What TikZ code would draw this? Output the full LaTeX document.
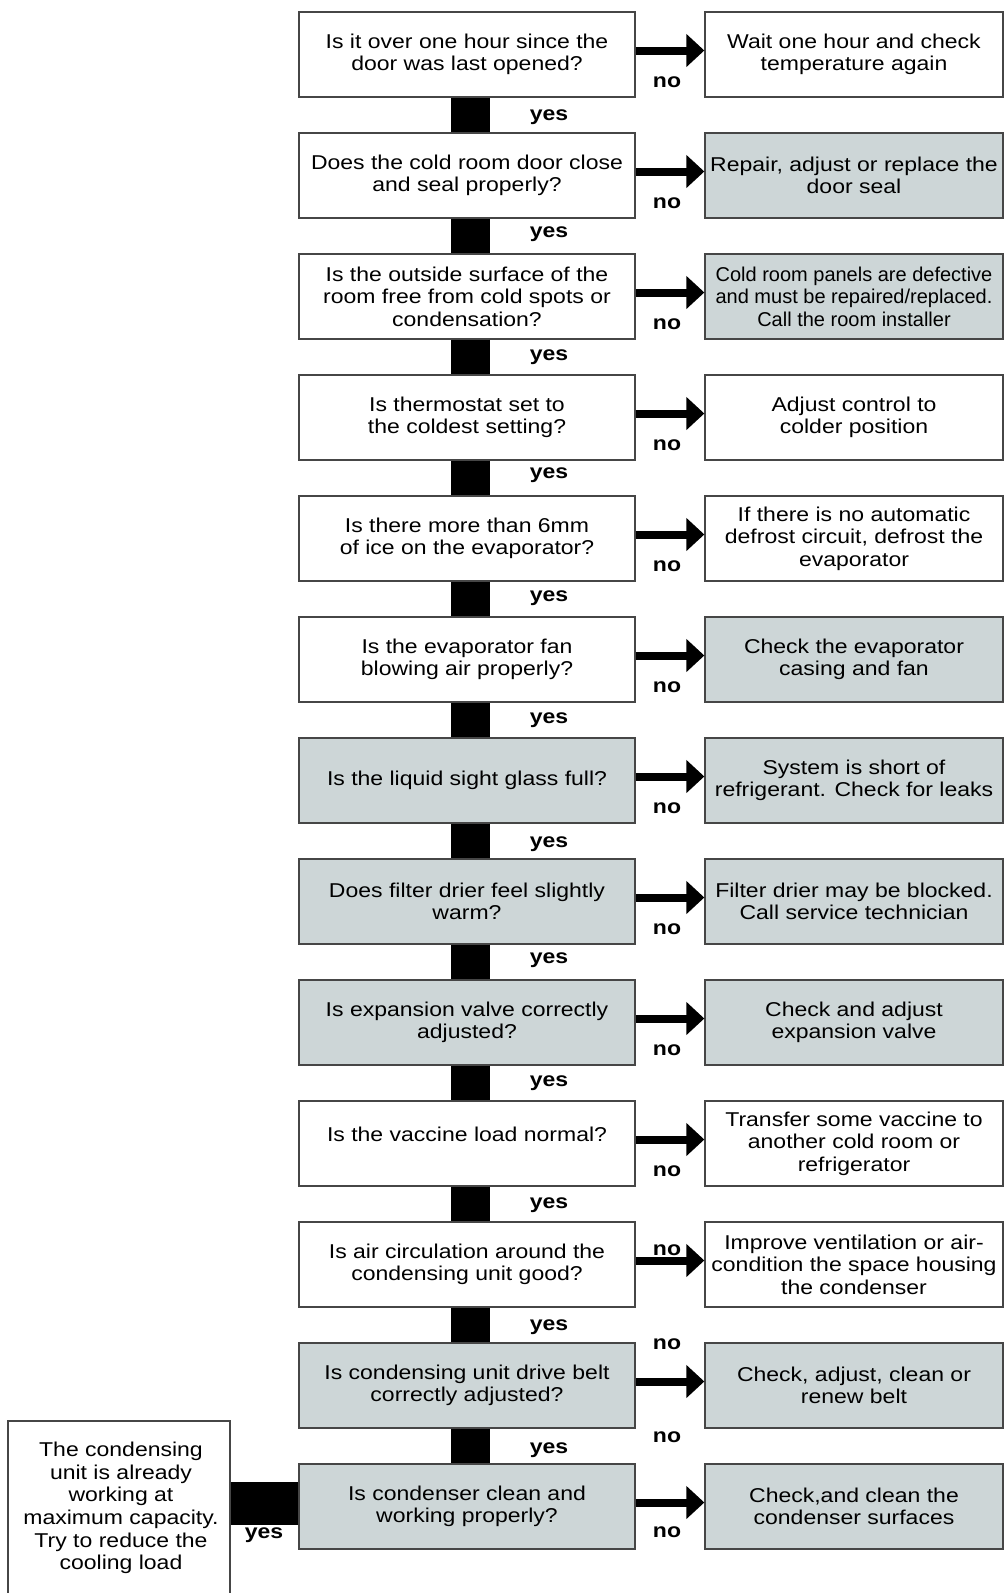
\documentclass[tikz,border=0pt]{standalone}
\usepackage{fontspec}
\setmainfont{Liberation Sans}[FakeStretch=1.15]
\newfontfamily\narrowfont{Liberation Sans}
\usetikzlibrary{arrows.meta}
\definecolor{boxgray}{RGB}{205,214,215}
\definecolor{edgecol}{RGB}{70,70,70}
\begin{document}
\begin{tikzpicture}[x=1pt,y=-1pt,
  every node/.style={font=\fontsize{20}{22.6}\selectfont},
  qbox/.style={draw=edgecol,line width=1.3pt,minimum width=336pt,minimum height=85pt,inner sep=0pt,align=center,fill=white},
  abox/.style={qbox,minimum width=298pt},
  shaded/.style={fill=boxgray},
  lab/.style={font=\fontsize{20}{22.6}\selectfont\bfseries,inner sep=0pt},
  noarr/.style={line width=8pt,-{Triangle[length=18pt,width=32pt]}},
  yesbar/.style={line width=39pt}]
\useasboundingbox (0,0) rectangle (1004,1593);
% question boxes
\node[qbox] (q1) at (467,54.5) {Is it over one hour since the\\door was last opened?};
\node[qbox] (q2) at (467,175.5) {Does the cold room door close\\and seal properly?};
\node[qbox] (q3) at (467,296.5) {Is the outside surface of the\\room free from cold spots or\\condensation?};
\node[qbox] (q4) at (467,417.5) {Is thermostat set to\\the coldest setting?};
\node[qbox] (q5) at (467,538.5) {Is there more than 6mm\\of ice on the evaporator?};
\node[qbox] (q6) at (467,659.5) {Is the evaporator fan\\blowing air properly?};
\node[qbox,shaded] (q7) at (467,780.5) {Is the liquid sight glass full?};
\node[qbox,shaded] (q8) at (467,901.5) {Does filter drier feel slightly\\warm?};
\node[qbox,shaded] (q9) at (467,1022.5) {Is expansion valve correctly\\adjusted?};
\node[qbox] (q10) at (467,1143.5) {\raisebox{9pt}[\height][\depth]{Is the vaccine load normal?}};
\node[qbox] (q11) at (467,1264.5) {Is air circulation around the\\condensing unit good?};
\node[qbox,shaded] (q12) at (467,1385.5) {Is condensing unit drive belt\\correctly adjusted?};
\node[qbox,shaded] (q13) at (467,1506.5) {Is condenser clean and\\working properly?};
% answer boxes
\node[abox] (r1) at (854,54.5) {Wait one hour and check\\temperature again};
\node[abox,shaded] (r2) at (854,175.5) {Repair, adjust or replace the\\door seal};
\node[abox,shaded,font=\narrowfont\fontsize{20}{22.6}\selectfont] (r3) at (854,296.5) {Cold room panels are defective\\and must be repaired/replaced.\\Call the room installer};
\node[abox] (r4) at (854,417.5) {Adjust control to\\colder position};
\node[abox] (r5) at (854,538.5) {If there is no automatic\\defrost circuit, defrost the\\evaporator};
\node[abox,shaded] (r6) at (854,659.5) {Check the evaporator\\casing and fan};
\node[abox,shaded] (r7) at (854,780.5) {System is short of\\refrigerant. Check for leaks};
\node[abox,shaded] (r8) at (854,901.5) {Filter drier may be blocked.\\Call service technician};
\node[abox,shaded] (r9) at (854,1022.5) {Check and adjust\\expansion valve};
\node[abox] (r10) at (854,1143.5) {Transfer some vaccine to\\another cold room or\\refrigerator};
\node[abox] (r11) at (854,1264.5) {Improve ventilation or air-\\condition the space housing\\the condenser};
\node[abox,shaded] (r12) at (854,1385.5) {Check, adjust, clean or\\renew belt};
\node[abox,shaded] (r13) at (854,1506.5) {Check,and clean the\\condenser surfaces};
% final box on the left
\node[draw=edgecol,line width=1.3pt,minimum width=222pt,minimum height=192pt,inner sep=0pt] (cbox) at (119,1517) {};
\node[align=center,inner sep=0pt] (ctext) at (121,1508) {The condensing\\unit is already\\working at\\maximum capacity.\\Try to reduce the\\cooling load};
% no arrows
\foreach \i in {1,...,13}{
  \draw[noarr] ([yshift=4pt]q\i.east) -- ([yshift=4pt]r\i.west);
}
% yes bars
\foreach \i [evaluate=\i as \j using int(\i+1)] in {1,...,12}{
  \draw[yesbar] ([xshift=3.5pt]q\i.south) -- ([xshift=3.5pt]q\j.north);
}
\coordinate (barR) at ([yshift=3pt]q13.west);
\draw[line width=43pt] (barR) -- (barR -| cbox.east);
% no labels
\foreach \y [count=\k] in {82,203,324,445,566,687,808,929,1050,1171,1250,1344,1437,1532}{
  \node[lab] (no\k) at (667,\y) {no};
}
% yes labels
\foreach \y [count=\k] in {117,234,357,475,598,720,844,960,1083,1205,1327,1450}{
  \node[lab] (yes\k) at (549,\y) {yes};
}
\node[lab] (yesc) at (264,1535) {yes};
\end{tikzpicture}
\end{document}
